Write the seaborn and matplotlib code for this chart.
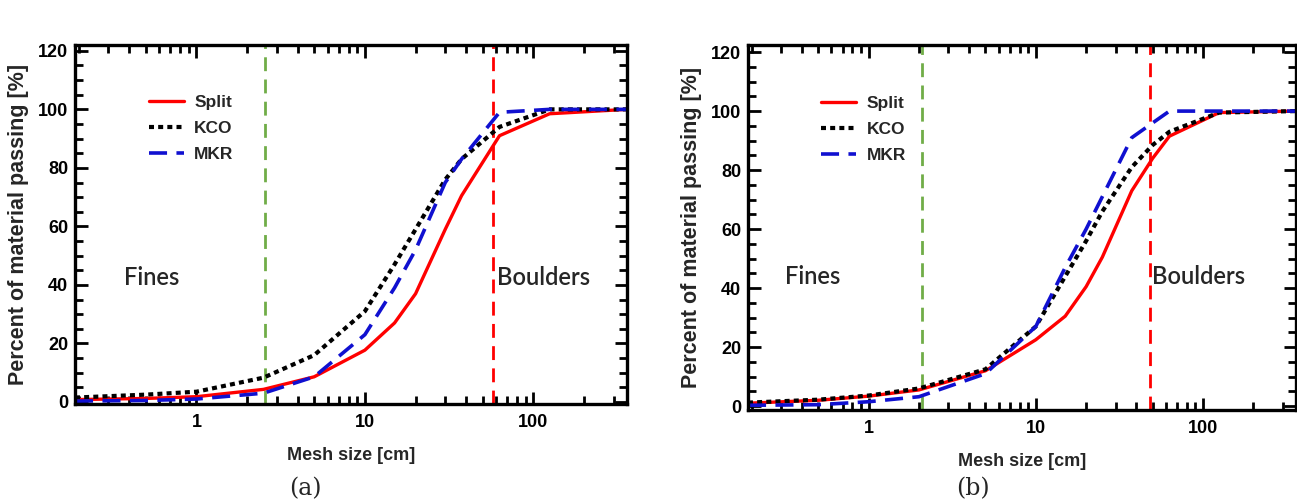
import numpy as np
import pandas as pd
import matplotlib
matplotlib.use("Agg")
import matplotlib.pyplot as plt
from matplotlib.ticker import MultipleLocator, LogLocator, FixedLocator, NullFormatter, FixedFormatter
import seaborn as sns

# ---------------- data ----------------
series_names = ["Split", "KCO", "MKR"]

# panel (a)
mesh_a = [0.19, 0.5, 1, 2.5, 5, 10, 15, 20, 30, 37.5, 63, 125, 360]
split_a = [0.8, 1.2, 1.8, 4.3, 8.6, 17.7, 27, 37, 59, 70.5, 91, 98.5, 100]
kco_a = [1.5, 2.5, 3.5, 8.3, 16, 31, 47, 59, 76, 83, 94, 100, 100]
mkr_a = [0.3, 0.5, 1.0, 3.0, 8.6, 23, 39, 52, 75, 83, 99, 100, 100]
fines_a = 2.56
boulders_a = 58

# panel (b)
mesh_b = [0.19, 0.5, 1, 2, 5, 10, 15, 20, 25, 37.5, 50, 63, 125, 360]
split_b = [1.0, 2.0, 3.4, 5.5, 12, 22.5, 30.5, 40.5, 50.5, 73, 84, 91.5, 99.5, 100]
kco_b = [1.2, 2.2, 3.6, 6.0, 12.5, 27, 44, 56, 66, 81, 88.5, 93, 99.5, 100]
mkr_b = [0.3, 0.5, 1.5, 3.2, 11, 27, 47, 60, 71, 91, 96, 100, 100, 100]
fines_b = 2.1
boulders_b = 48

x_ticks = [1, 10, 100]
x_ticklabels = ["1", "10", "100"]
y_ticks = [0, 20, 40, 60, 80, 100, 120]

# ---------------- style ----------------
sns.set_style("white")
plt.rcParams["font.family"] = ["Liberation Sans", "DejaVu Sans"]

styles = {
    "Split": dict(color="#ff0000", linestyle="-", linewidth=2.4),
    "KCO": dict(color="#000000", linestyle=(0, (1.2, 1.0)), linewidth=3.0),
    "MKR": dict(color="#1010d0", linestyle=(0, (5, 2.6)), linewidth=2.6),
}

fig = plt.figure(figsize=(12.97, 5.03), dpi=100)
W, H = 1297, 503
ax_a = fig.add_axes([75 / W, 1 - 404 / H, (627 - 75) / W, (404 - 45) / H])
ax_b = fig.add_axes([748 / W, 1 - 410 / H, (1296 - 748) / W, (410 - 45) / H])

panels = [
    (ax_a, mesh_a, [split_a, kco_a, mkr_a], fines_a, boulders_a, (-0.7, 122), 0.37, 42.7, 61, 42.7),
    (ax_b, mesh_b, [split_b, kco_b, mkr_b], fines_b, boulders_b, (-1.3, 122.4), 0.318, 43.8, 49.5, 43.8),
]

for ax, mesh, ys, fx, bx, ylim, ftx, fty, btx, bty in panels:
    frames = []
    for name, y in zip(series_names, ys):
        frames.append(pd.DataFrame({"mesh": mesh, "pct": y, "series": name}))
    df = pd.concat(frames, ignore_index=True)
    for name in series_names:
        sub = df[df["series"] == name]
        sns.lineplot(data=sub, x="mesh", y="pct", ax=ax, label=name,
                     estimator=None, sort=False, **styles[name])
    ax.axvline(fx, color="#70AD47", linestyle=(0, (5, 3)), linewidth=2.0, zorder=1)
    ax.axvline(bx, color="#ff0000", linestyle=(0, (5, 3)), linewidth=2.0, zorder=1)
    ax.set_xscale("log")
    ax.set_xlim(0.19, 360)
    ax.set_ylim(*ylim)
    ax.xaxis.set_major_locator(FixedLocator(x_ticks))
    ax.xaxis.set_major_formatter(FixedFormatter(x_ticklabels))
    ax.xaxis.set_minor_locator(LogLocator(base=10, subs=np.arange(2, 10)))
    ax.xaxis.set_minor_formatter(NullFormatter())
    ax.yaxis.set_major_locator(FixedLocator(y_ticks))
    ax.yaxis.set_minor_locator(MultipleLocator(5))
    ax.tick_params(which="both", direction="in", top=True, right=True,
                   bottom=True, left=True, width=2.0, colors="black",
                   labelsize=13)
    ax.tick_params(axis="x", which="major", pad=7)
    ax.tick_params(axis="y", which="major", pad=5)
    ax.tick_params(which="major", length=9)
    ax.tick_params(which="minor", length=5.5)
    for lab in ax.get_xticklabels() + ax.get_yticklabels():
        lab.set_fontweight("bold")
    for s in ax.spines.values():
        s.set_linewidth(2.4)
        s.set_color("black")
    ax.set_xlabel("Mesh size [cm]", fontsize=13, fontweight="bold", labelpad=12)
    ax.set_ylabel("Percent of material passing [%]", fontsize=15.5, fontweight="bold", labelpad=6)
    ax.text(ftx, fty, "Fines", fontsize=17, family=["Lato", "DejaVu Sans"], fontweight="semibold",
            ha="left", va="center")
    ax.text(btx, bty, "Boulders", fontsize=17, family=["Lato", "DejaVu Sans"], fontweight="semibold",
            ha="left", va="center")
    ax.legend(loc="upper left", bbox_to_anchor=(0.134, 0.861), frameon=False,
              handlelength=2.0, handletextpad=0.6, labelspacing=0.62,
              borderaxespad=0, borderpad=0, prop={"weight": "bold", "size": 12.5})

fig.text(305 / W, 1 - 489 / H, "(a)", family=["DejaVu Serif"], fontsize=17, ha="center", va="center")
fig.text(973 / W, 1 - 489 / H, "(b)", family=["DejaVu Serif"], fontsize=17, ha="center", va="center")

fig.savefig("out.png", dpi=100)
